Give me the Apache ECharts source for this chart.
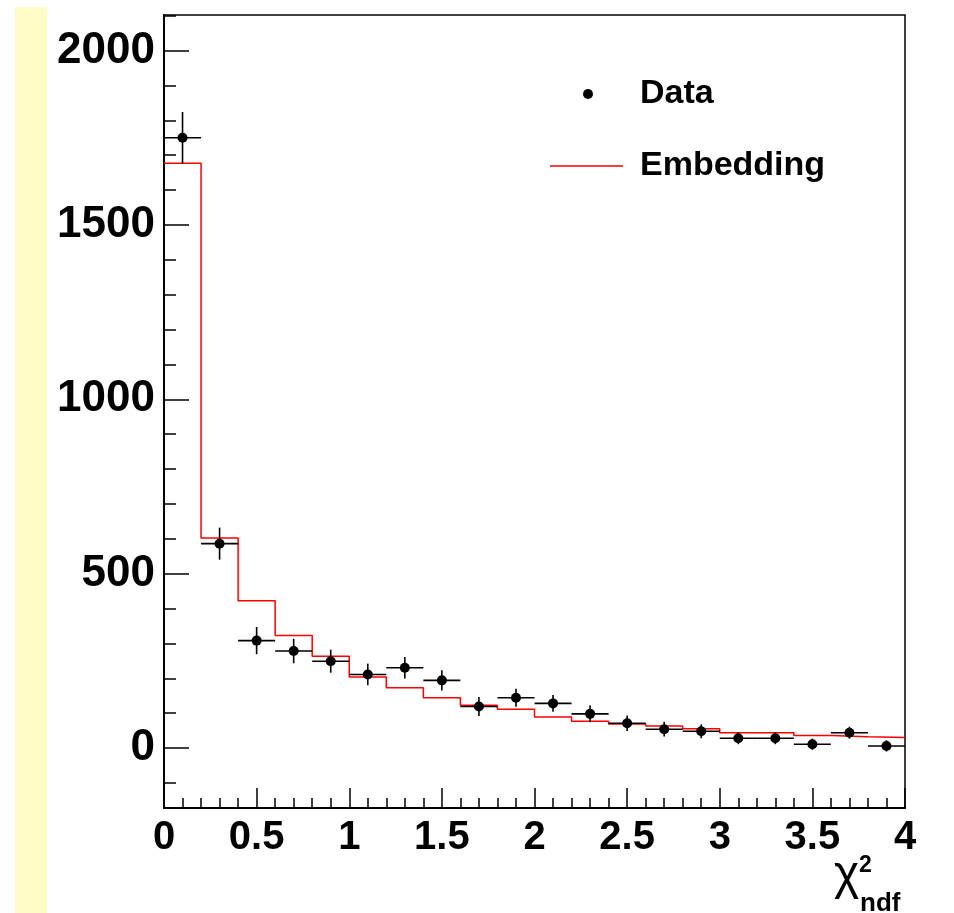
<!DOCTYPE html>
<html>
<head>
<meta charset="utf-8">
<script src="https://cdn.jsdelivr.net/npm/echarts@6/dist/echarts.min.js"></script>
<style>
  html, body { margin: 0; padding: 0; background: #fff; }
  #chart { width: 954px; height: 913px; }
</style>
</head>
<body>
<div id="chart"></div>
<script>
// bins of chi2/ndf
const binEdges = [0, 0.2, 0.4, 0.6, 0.8, 1.0, 1.2, 1.4, 1.6, 1.8, 2.0, 2.2, 2.4, 2.6, 2.8, 3.0, 3.2, 3.4, 3.6, 3.8, 4.0];
const binCenters = [0.1, 0.3, 0.5, 0.7, 0.9, 1.1, 1.3, 1.5, 1.7, 1.9, 2.1, 2.3, 2.5, 2.7, 2.9, 3.1, 3.3, 3.5, 3.7, 3.9];
// Data points and their errors
const dataValues = [1750, 586, 308, 278, 249, 211, 230, 194, 119, 144, 128, 98, 71, 54, 48, 28, 28, 11, 44, 6];
const dataErrors = [74, 46, 39, 35, 33, 31, 31, 29, 27, 26, 24, 24, 22, 21, 20, 17, 17, 16, 17, 16];
// Embedding histogram
const embedValues = [1677, 602, 422, 323, 263, 204, 173, 144, 123, 111, 89, 77, 69, 63, 55, 44, 44, 36, 32, 30];
// axis ticks
const xTickLabels = ['0', '0.5', '1', '1.5', '2', '2.5', '3', '3.5', '4'];
const yMajorTicks = [0, 500, 1000, 1500, 2000];
const yMinorTicks = [-100, 100, 200, 300, 400, 600, 700, 800, 900, 1100, 1200, 1300, 1400, 1600, 1700, 1800, 1900, 2100];

const font = 'Liberation Sans, Arial, Helvetica, sans-serif';

let myChart = echarts.init(document.getElementById('chart'));

// step line points: left edge of each bin, plus the last right edge
let stepData = binEdges.map((e, i) => [e, embedValues[Math.min(i, embedValues.length - 1)]]);
let errData = binCenters.map((c, i) => [c, dataValues[i], dataErrors[i], binEdges[i], binEdges[i + 1]]);
let pointData = binCenters.map((c, i) => [c, dataValues[i]]);

let legendText = { fontFamily: font, fontWeight: 'bold', fontSize: 34, color: '#000' };

let option = {
    animation: false,
    backgroundColor: '#fff',
    grid: {
        left: 164, right: 49, top: 15, bottom: 105,
        show: true, borderColor: '#000', borderWidth: 1.5
    },
    legend: [{
        data: [{ name: 'Data', icon: 'circle' }],
        left: 578, top: 72,
        itemWidth: 10, itemHeight: 10,
        textStyle: Object.assign({ padding: [0, 0, 0, 42] }, legendText)
    }, {
        data: [{ name: 'Embedding', icon: 'rect' }],
        left: 545, top: 144,
        itemWidth: 73, itemHeight: 1.5,
        itemStyle: { color: '#ff0000' },
        textStyle: Object.assign({ padding: [0, 0, 0, 12] }, legendText)
    }],
    xAxis: {
        type: 'value', min: 0, max: 4, interval: 0.5,
        axisLine: { onZero: false, lineStyle: { color: '#000', width: 2 } },
        axisTick: { inside: true, length: 20, lineStyle: { color: '#000', width: 1.5 } },
        minorTick: { show: true, splitNumber: 5, length: 10, lineStyle: { color: '#000', width: 1.5 } },
        splitLine: { show: false },
        axisLabel: {
            margin: 10, color: '#000', fontFamily: font, fontWeight: 'bold', fontSize: 40,
            formatter: (v) => xTickLabels[Math.round(v * 2)]
        }
    },
    yAxis: [{
        type: 'value', min: -172, max: 2102,
        axisLine: { show: true, onZero: false, lineStyle: { color: '#000', width: 2 } },
        axisTick: { show: true, inside: true, length: 25, customValues: yMajorTicks, lineStyle: { color: '#000', width: 1.5 } },
        splitLine: { show: false },
        axisLabel: {
            margin: 9, color: '#000', fontFamily: font, fontWeight: 'bold', fontSize: 44,
            customValues: yMajorTicks,
            formatter: (v) => String(v)
        }
    }, {
        type: 'value', min: -172, max: 2102, position: 'left',
        axisLine: { show: false, onZero: false },
        axisTick: { show: true, inside: true, length: 12, customValues: yMinorTicks, lineStyle: { color: '#000', width: 1.5 } },
        splitLine: { show: false },
        axisLabel: { show: false }
    }],
    series: [{
        name: 'Embedding',
        type: 'line',
        step: 'end',
        data: stepData,
        symbol: 'none',
        lineStyle: { color: '#ff0000', width: 1.5 },
        itemStyle: { color: '#ff0000' },
        z: 2
    }, {
        name: 'errors',
        type: 'custom',
        data: errData,
        renderItem: (params, api) => {
            let x = api.value(0), y = api.value(1), e = api.value(2);
            let l = api.coord([api.value(3), y]);
            let r = api.coord([api.value(4), y]);
            let t = api.coord([x, y + e]);
            let b = api.coord([x, y - e]);
            let st = { stroke: '#000', lineWidth: 1.6 };
            return {
                type: 'group',
                children: [
                    { type: 'line', shape: { x1: l[0], y1: l[1], x2: r[0], y2: r[1] }, style: st },
                    { type: 'line', shape: { x1: t[0], y1: t[1], x2: b[0], y2: b[1] }, style: st }
                ]
            };
        },
        z: 3
    }, {
        name: 'Data',
        type: 'scatter',
        data: pointData,
        symbol: 'circle',
        symbolSize: 10,
        itemStyle: { color: '#000', opacity: 1 },
        z: 4
    }],
    graphic: [
        // yellow strip at the left edge
        { type: 'rect', left: 15, top: 7, shape: { width: 32, height: 906 }, style: { fill: '#fffcc8' }, z: -1 },
        // axis title chi2_ndf
        { type: 'text', left: 834, top: 852, style: { text: 'χ', font: '48px ' + font, fill: '#000' } },
        { type: 'text', left: 859, top: 854, style: { text: '2', font: 'bold 23px ' + font, fill: '#000' } },
        { type: 'text', left: 860, top: 891, style: { text: 'ndf', font: 'bold 26px ' + font, fill: '#000' } }
    ]
};

myChart.setOption(option);
window.addEventListener('resize', () => {
    myChart.resize();
});
</script>
</body>
</html>
